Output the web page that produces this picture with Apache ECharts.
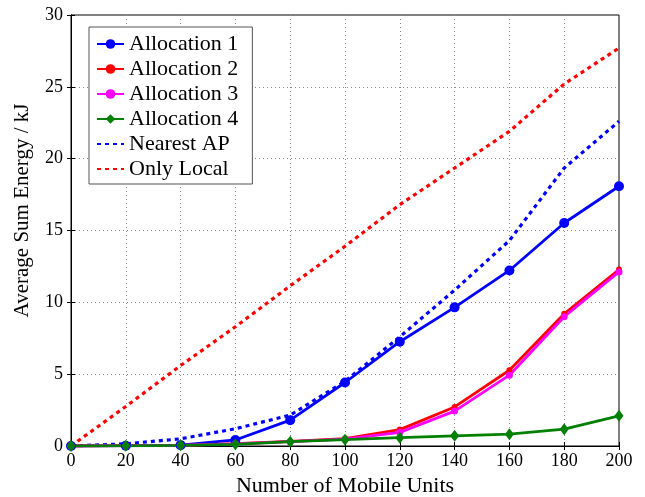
<!DOCTYPE html>
<html>
<head>
<meta charset="utf-8">
<script src="https://cdn.jsdelivr.net/npm/echarts@6/dist/echarts.min.js"></script>
<style>html,body{margin:0;padding:0;background:#fff}#c{width:645px;height:497px}</style>
</head>
<body>
<div id="c"></div>
<script>
var xValues = [0, 20, 40, 60, 80, 100, 120, 140, 160, 180, 200];
var alloc1 = [0, 0.02, 0.06, 0.42, 1.8, 4.42, 7.26, 9.65, 12.22, 15.52, 18.08];
var alloc2 = [0, 0.02, 0.05, 0.17, 0.32, 0.52, 1.14, 2.72, 5.27, 9.2, 12.28];
var alloc3 = [0, 0.02, 0.05, 0.15, 0.3, 0.48, 0.95, 2.43, 4.93, 9.0, 12.12];
var alloc4 = [0, 0.01, 0.05, 0.12, 0.3, 0.44, 0.58, 0.71, 0.82, 1.17, 2.1];
var nearestAP = [0, 0.15, 0.5, 1.2, 2.15, 4.5, 7.6, 10.85, 14.3, 19.35, 22.6];
var onlyLocal = [0, 2.75, 5.6, 8.3, 11.15, 13.9, 16.8, 19.35, 21.9, 25.2, 27.7];
var seriesNames = ['Allocation 1', 'Allocation 2', 'Allocation 3', 'Allocation 4', 'Nearest AP', 'Only Local'];

function pairs(arr) { return xValues.map(function (x, i) { return [x, arr[i]]; }); }

var font = 'Liberation Serif';
var chart = echarts.init(document.getElementById('c'), null, {renderer: 'canvas'});
chart.setOption({
  animation: false,
  textStyle: {fontFamily: font},
  grid: {left: 71, right: 26, top: 15, bottom: 51, outerBoundsMode: 'none', containLabel: false,
         show: true, borderColor: '#000', borderWidth: 1, backgroundColor: 'transparent'},
  legend: {
    orient: 'vertical', left: 89, top: 27,
    data: [
      {name: seriesNames[0]}, {name: seriesNames[1]}, {name: seriesNames[2]}, {name: seriesNames[3]},
      {name: seriesNames[4], itemStyle: {opacity: 0}},
      {name: seriesNames[5], itemStyle: {opacity: 0}}
    ],
    itemWidth: 27, itemHeight: 12, itemGap: 3,
    borderColor: '#555', borderWidth: 1, padding: [6, 14, 4, 7],
    backgroundColor: '#fff',
    textStyle: {fontFamily: font, fontSize: 22, color: '#000'}
  },
  xAxis: [{
    type: 'value', min: 0, max: 200, interval: 20,
    name: 'Number of Mobile Units', nameLocation: 'middle', nameGap: 28,
    nameTextStyle: {fontFamily: font, fontSize: 22, color: '#000'},
    axisLine: {show: true, lineStyle: {color: '#000'}},
    axisTick: {show: true, inside: true, length: 4, lineStyle: {color: '#000'}},
    axisLabel: {fontFamily: font, fontSize: 18, color: '#000', margin: 6},
    splitLine: {show: true, lineStyle: {type: [1, 3], color: '#888', width: 1}}
  }, {
    type: 'value', position: 'top', min: 0, max: 200, interval: 20,
    axisLine: {show: true, lineStyle: {color: '#000'}},
    axisTick: {show: true, inside: true, length: 4, lineStyle: {color: '#000'}},
    axisLabel: {show: false}, splitLine: {show: false}
  }],
  yAxis: [{
    type: 'value', min: 0, max: 30, interval: 5,
    name: 'Average Sum Energy / kJ', nameLocation: 'middle', nameGap: 38,
    nameTextStyle: {fontFamily: font, fontSize: 21, color: '#000', padding: [0, 0, 0, 40]},
    axisLine: {show: true, lineStyle: {color: '#000'}},
    axisTick: {show: true, inside: true, length: 4, lineStyle: {color: '#000'}},
    axisLabel: {fontFamily: font, fontSize: 18, color: '#000', margin: 8},
    splitLine: {show: true, lineStyle: {type: [1, 3], color: '#888', width: 1}}
  }, {
    type: 'value', position: 'right', min: 0, max: 30, interval: 5,
    axisLine: {show: true, lineStyle: {color: '#000'}},
    axisTick: {show: true, inside: true, length: 4, lineStyle: {color: '#000'}},
    axisLabel: {show: false}, splitLine: {show: false}
  }],
  series: [
    {name: seriesNames[5], type: 'line', data: pairs(onlyLocal), symbol: 'circle', showSymbol: false, color: '#ff0000',
     lineStyle: {width: 3.2, type: [4, 4], color: '#ff0000'}},
    {name: seriesNames[4], type: 'line', data: pairs(nearestAP), symbol: 'circle', showSymbol: false, color: '#0000ff',
     lineStyle: {width: 3.2, type: [4, 4], color: '#0000ff'}},
    {name: seriesNames[0], type: 'line', data: pairs(alloc1), symbol: 'circle', symbolSize: 10, color: '#0000ff',
     lineStyle: {width: 2.8, color: '#0000ff'}, itemStyle: {color: '#0000ff'}},
    {name: seriesNames[1], type: 'line', data: pairs(alloc2), symbol: 'circle', symbolSize: 6, color: '#ff0000',
     lineStyle: {width: 2.8, color: '#ff0000'}, itemStyle: {color: '#ff0000'}},
    {name: seriesNames[2], type: 'line', data: pairs(alloc3), symbol: 'circle', symbolSize: 7, color: '#ff00ff',
     lineStyle: {width: 2.8, color: '#ff00ff'}, itemStyle: {color: '#ff00ff'}},
    {name: seriesNames[3], type: 'line', data: pairs(alloc4), symbol: 'diamond', symbolSize: [9, 12], color: '#008000',
     lineStyle: {width: 2.8, color: '#008000'}, itemStyle: {color: '#008000'}}
  ]
});
</script>
</body>
</html>
